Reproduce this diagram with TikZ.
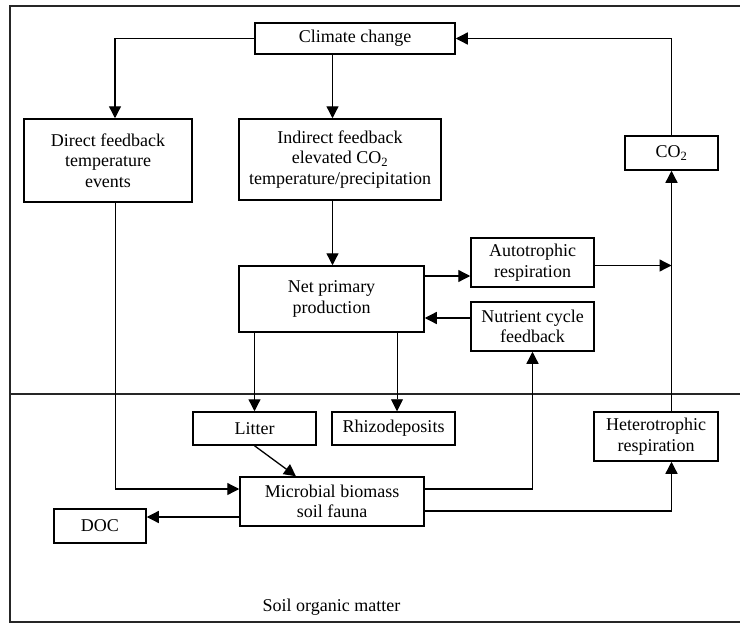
\documentclass[tikz,border=0pt]{standalone}
\usepackage{fontspec}
\setmainfont{Liberation Serif}
\usetikzlibrary{arrows.meta}
\begin{document}
\begin{tikzpicture}[x=1pt,y=-1pt,
  box/.style={draw, line width=1.5pt, inner sep=0pt, align=center,
    font=\fontsize{18}{20.5}\selectfont},
  arr/.style={line width=1.3pt, -{Triangle[length=12pt,width=12pt]}},
  thinarr/.style={line width=0.8pt, -{Triangle[length=12pt,width=12pt]}},
  thinline/.style={line width=0.8pt},
  frame/.style={line width=1.5pt, draw=black!85}]
\useasboundingbox (0,0) rectangle (740,624);
% frame
\draw[frame] (10,6) rectangle (746,622);
\draw[frame] (10,394) -- (746,394);
% nodes
\node[box, minimum width=200pt, minimum height=31pt] (cc) at (355,38.5) {Climate change};
\node[box, minimum width=168pt, minimum height=83pt] (direct) at (108,160.5) {Direct feedback\\temperature\\events};
\node[box, minimum width=202pt, minimum height=81pt] (indirect) at (340,159.5) {Indirect feedback\\elevated CO\textsubscript{2}\\temperature/precipitation};
\node[box, minimum width=93pt, minimum height=34pt] (co2) at (671.5,153) {CO\textsubscript{2}};
\node[box, minimum width=185pt, minimum height=66pt] (npp) at (331.5,299) {Net primary\\production};
\node[box, minimum width=123pt, minimum height=49pt] (auto) at (532.5,262.5) {Autotrophic\\respiration};
\node[box, minimum width=123pt, minimum height=49pt] (nut) at (532.5,326.5) {Nutrient cycle\\feedback};
\node[box, minimum width=123pt, minimum height=33pt] (litter) at (254.5,428.5) {Litter};
\node[box, minimum width=123pt, minimum height=33pt] (rhizo) at (393.5,428.5) {Rhizodeposits};
\node[box, minimum width=124pt, minimum height=49pt] (het) at (656,436.5) {Heterotrophic\\respiration};
\node[box, minimum width=184pt, minimum height=49pt] (micro) at (332,501.5) {Microbial biomass\\soil fauna};
\node[box, minimum width=92pt, minimum height=34pt] (doc) at (100,526) {DOC};
\node[font=\fontsize{18}{20.5}\selectfont, inner sep=0pt] (som) at (331.5,607) {Soil organic matter};
% helper coordinates
\coordinate (xD) at (115,0);
\coordinate (xI) at (332.5,0);
\coordinate (xC) at (671.5,0);
\coordinate (xR) at (397,0);
\coordinate (xM) at (296,0);
\coordinate (yA) at (0,489);
\coordinate (yB) at (0,511);
\coordinate (yC) at (0,517);
\coordinate (yD) at (0,276);
\coordinate (yE) at (0,265.5);
\coordinate (yF) at (0,318);
\coordinate (bend) at (115,489);
\coordinate (hitC) at (671.5,265.5);
% connectors
\draw[arr] (cc.west) -| (direct.north -| xD);
\draw[arr] (cc.south -| xI) -- (indirect.north -| xI);
\draw[arr] (co2.north) |- (cc.east);
\draw[thinline] (direct.south -| xD) -- (bend);
\draw[arr] (bend) -- (micro.west |- yA);
\draw[arr] (indirect.south -| xI) -- (npp.north -| xI);
\draw[arr] (npp.east |- yD) -- (auto.west |- yD);
\draw[arr] (auto.east |- yE) -- (hitC);
\draw[arr] (nut.west |- yF) -- (npp.east |- yF);
\draw[arr] (micro.east |- yA) -| (nut.south);
\draw[arr] (micro.east |- yB) -| (het.south -| xC);
\draw[arr] (het.north -| xC) -- (co2.south);
\draw[arr] (npp.south -| litter.north) -- (litter.north);
\draw[thinarr] (npp.south -| xR) -- (rhizo.north -| xR);
\draw[arr] (litter.south) -- (micro.north -| xM);
\draw[arr] (micro.west |- yC) -- (doc.east |- yC);
\end{tikzpicture}
\end{document}
